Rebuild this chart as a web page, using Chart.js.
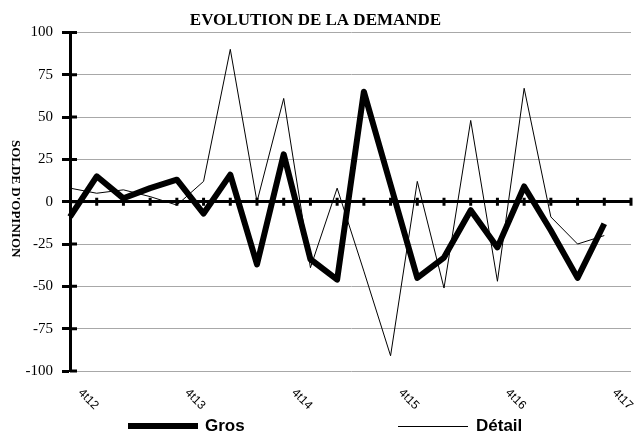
<!DOCTYPE html>
<html>
<head>
<meta charset="utf-8">
<script src="https://cdn.jsdelivr.net/npm/chart.js@4/dist/chart.umd.min.js"></script>
<style>
  body { margin: 0; background: #fff; }
  #wrap { position: relative; width: 642px; height: 437px; }
  #ytitle {
    position: absolute; left: 9px; top: 140px;
    writing-mode: vertical-rl;
    font: bold 13px "Liberation Serif", serif; line-height: 15px; color: #000;
  }
  .lg-line { position: absolute; background: #000; }
  .lg-text { position: absolute; font: bold 17px "Liberation Sans", Arial, sans-serif; line-height: 18px; color: #000; }
</style>
</head>
<body>
<div id="wrap">
  <canvas id="chart" width="642" height="437"></canvas>
  <div id="ytitle">SOLDE D'OPINION</div>
  <div class="lg-line" style="left:128px;top:423px;width:70px;height:6px"></div>
  <div class="lg-text" id="lg0" style="left:205px;top:417px"></div>
  <div class="lg-line" style="left:398px;top:426px;width:70px;height:1px"></div>
  <div class="lg-text" id="lg1" style="left:476px;top:417px"></div>
</div>
<script>
// quarters 4t12 -> 4t17 (+ one empty slot, the axis runs one step further)
const quarters = ['4t12', '1t13', '2t13', '3t13', '4t13', '1t14', '2t14', '3t14', '4t14',
  '1t15', '2t15', '3t15', '4t15', '1t16', '2t16', '3t16', '4t16', '1t17', '2t17', '3t17', '4t17', '1t18'];
const shownLabels = ['4t12', '4t13', '4t14', '4t15', '4t16', '4t17'];

const grosName = 'Gros';
const detailName = 'Détail';
const gros = [-9, 15, 2, 8, 13, -7, 16, -37, 28, -34, -46, 65, 10, -45, -33, -5, -27, 9, -17, -45, -13];
const detail = [8, 5, 7, 3, -2, 12, 90, 0, 61, -39, 8, -41, -91, 12, -51, 48, -47, 67, -9, -25, -20];

const yTicks = [-100, -75, -50, -25, 0, 25, 50, 75, 100];

document.getElementById('lg0').textContent = grosName;
document.getElementById('lg1').textContent = detailName;

// ticks crossing the axes + slanted quarter labels
const axisExtras = {
  id: 'axisExtras',
  beforeDatasetsDraw(chart) {
    const {ctx, chartArea, scales: {x, y}} = chart;
    const y0 = y.getPixelForValue(0);
    ctx.save();
    ctx.strokeStyle = '#000';
    ctx.lineWidth = 3;
    ctx.beginPath();
    yTicks.forEach(v => {
      const py = y.getPixelForValue(v);
      ctx.moveTo(chartArea.left, py);
      ctx.lineTo(chartArea.left + 7, py);
    });
    for (let i = 1; i < quarters.length; i++) {
      const px = x.getPixelForValue(i);
      ctx.moveTo(px, y0 - 4);
      ctx.lineTo(px, y0 + 4);
    }
    ctx.stroke();
    ctx.restore();
  },
  afterDraw(chart) {
    const {ctx, chartArea, scales: {x}} = chart;
    ctx.save();
    ctx.fillStyle = '#000';
    ctx.font = '12px "Liberation Sans", Arial, sans-serif';
    ctx.textAlign = 'left';
    ctx.textBaseline = 'middle';
    quarters.forEach((q, i) => {
      if (!shownLabels.includes(q)) return;
      const px = x.getPixelForValue(i);
      ctx.save();
      ctx.translate(px + 10, chartArea.bottom + 20);
      ctx.rotate(Math.PI / 4);
      ctx.fillText(q, 0, 0);
      ctx.restore();
    });
    ctx.restore();
  }
};

new Chart(document.getElementById('chart'), {
  type: 'line',
  data: {
    labels: quarters,
    datasets: [
      {
        label: grosName,
        data: gros,
        borderColor: '#000',
        backgroundColor: '#000',
        borderWidth: 6,
        borderJoinStyle: 'round',
        pointRadius: 0,
        tension: 0,
      },
      {
        label: detailName,
        data: detail,
        borderColor: '#000',
        backgroundColor: '#000',
        borderWidth: 1,
        pointRadius: 0,
        tension: 0,
      }
    ]
  },
  options: {
    responsive: false,
    animation: false,
    devicePixelRatio: 1,
    layout: { padding: { left: 0, right: 11, top: 0, bottom: 0 } },
    plugins: {
      legend: { display: false },
      tooltip: { enabled: false },
      title: {
        display: true,
        text: 'EVOLUTION DE LA DEMANDE',
        color: '#000',
        font: { family: '"Liberation Serif", serif', size: 17, weight: 'bold' },
        padding: { top: 10, bottom: 2 }
      }
    },
    scales: {
      x: {
        type: 'category',
        offset: false,
        grid: { display: false },
        border: { display: false },
        ticks: { display: false },
        afterFit: s => { s.height = 66; }
      },
      y: {
        min: -100,
        max: 100,
        afterBuildTicks: s => { s.ticks = yTicks.map(v => ({ value: v })); },
        ticks: {
          color: '#000',
          padding: 9,
          font: { family: '"Liberation Serif", serif', size: 15 }
        },
        grid: {
          color: c => (c.tick && c.tick.value === 0 ? '#000' : '#a8a8a8'),
          lineWidth: c => (c.tick && c.tick.value === 0 ? 3 : 1),
          drawTicks: true,
          tickLength: 8,
          tickColor: '#000',
          tickWidth: 3
        },
        border: { color: '#000', width: 3 },
        afterFit: s => { s.width = 70; }
      }
    }
  },
  plugins: [axisExtras]
});
</script>
</body>
</html>
